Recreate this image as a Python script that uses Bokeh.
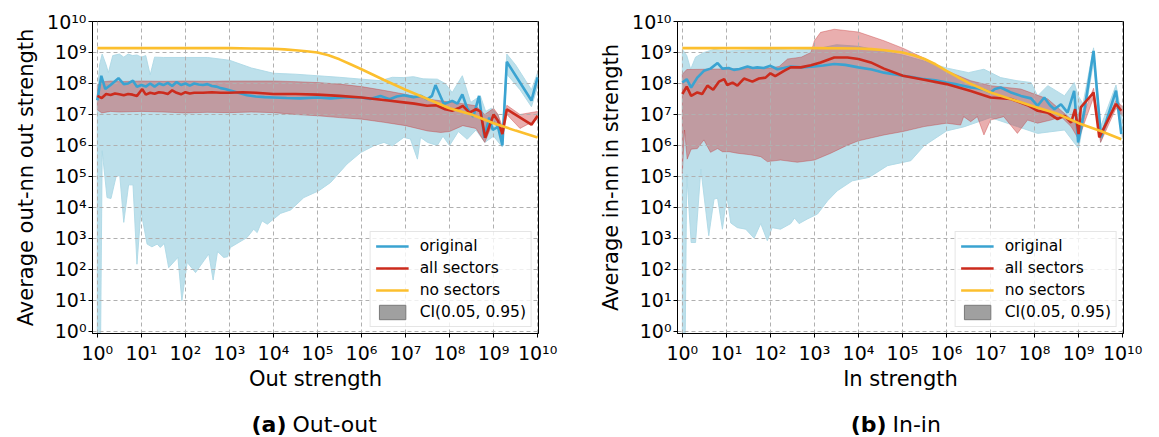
from bokeh.plotting import figure
from bokeh.models import Range1d, FixedTicker, Label
from bokeh.layouts import row, column
from bokeh.embed import file_html
from bokeh.resources import INLINE

# ---------------- data (log10 of strength, log10 of value) ----------------
decades = list(range(0, 11))

# Panel (a) Out-out
a_orig_lx = [0, 0.09, 0.18, 0.3, 0.48, 0.6, 0.7, 0.81, 0.9, 1.0, 1.1, 1.2, 1.3, 1.4, 1.5, 1.6, 1.7, 1.8, 1.9, 2.0,
             2.1, 2.2, 2.3, 2.4, 2.5, 2.6, 2.7, 2.8, 2.9, 3.0, 3.2, 3.4, 3.6, 3.8, 4.0, 4.3, 4.6, 5.0, 5.3, 5.6,
             6.0, 6.2, 6.43, 6.64, 6.8, 6.96, 7.18, 7.35, 7.49, 7.6, 7.68, 7.87, 8.06, 8.18, 8.29, 8.4, 8.54,
             8.67, 8.79, 8.9, 8.98, 9.1, 9.2, 9.3, 9.86, 10.0]
a_orig_ly = [7.46, 8.25, 7.82, 7.95, 8.17, 7.98, 8.0, 8.09, 7.89, 7.95, 7.9, 8.0, 7.9, 8.0, 7.95, 8.02, 7.92, 8.05, 7.95, 8.0,
             7.93, 8.0, 7.97, 7.95, 7.98, 7.92, 7.9, 7.85, 7.82, 7.78, 7.7, 7.62, 7.58, 7.56, 7.55, 7.53, 7.52, 7.55, 7.52, 7.55,
             7.55, 7.5, 7.6, 7.49, 7.58, 7.62, 7.56, 7.6, 7.49, 7.6, 7.95, 7.34, 7.44, 7.35, 7.65, 7.2, 6.93,
             7.6, 6.25, 6.9, 6.5, 6.6, 6.0, 8.7, 7.45, 8.2]
a_all_lx = [0, 0.1, 0.2, 0.3, 0.4, 0.5, 0.6, 0.7, 0.8, 0.9, 1.02, 1.1, 1.2, 1.3, 1.4, 1.5, 1.6, 1.7, 1.8, 1.9, 2.0,
            2.1, 2.2, 2.4, 2.6, 2.8, 3.0, 3.3, 3.6, 4.0, 4.5, 5.0, 5.5, 6.0, 6.3, 6.6, 6.96, 7.2, 7.49, 7.7, 7.9,
            8.06, 8.2, 8.3, 8.45, 8.6, 8.7, 8.81, 9.0, 9.1, 9.2, 9.3, 9.86, 10.0]
a_all_ly = [7.6, 7.53, 7.66, 7.63, 7.68, 7.65, 7.62, 7.66, 7.64, 7.6, 7.82, 7.64, 7.7, 7.67, 7.72, 7.7, 7.66, 7.78, 7.7, 7.65, 7.72,
            7.68, 7.7, 7.7, 7.72, 7.7, 7.7, 7.72, 7.7, 7.66, 7.66, 7.64, 7.6, 7.55, 7.5, 7.45, 7.39, 7.35, 7.28, 7.3, 7.17,
            7.12, 7.2, 7.28, 7.06, 7.17, 7.1, 6.25, 7.0, 6.8, 6.37, 7.17, 6.67, 6.96]
a_none_lx = [0, 1, 2, 3, 3.5, 4, 4.25, 4.5, 4.75, 5, 5.25, 5.5, 5.75, 6, 6.25, 6.5, 6.75, 7, 7.5, 8, 8.5, 9, 9.5, 10.0]
a_none_ly = [9.14, 9.14, 9.14, 9.14, 9.13, 9.12, 9.1, 9.07, 9.04, 9.0, 8.91, 8.78, 8.62, 8.46, 8.29, 8.12, 7.96, 7.8,
             7.5, 7.2, 7.0, 6.72, 6.48, 6.26]

a_ci_all_up_lx = [0, 0.1, 0.3, 0.5, 1, 1.5, 2, 2.5, 3, 3.5, 4, 4.5, 5, 5.5, 6, 6.5, 7, 7.5, 8, 8.3, 8.6, 8.8, 9.0, 9.1,
                  9.2, 9.3, 9.6, 10.0]
a_ci_all_up_ly = [7.95, 8.05, 8.08, 8.06, 8.08, 8.07, 8.08, 8.07, 8.08, 8.08, 8.08, 8.06, 8.03, 7.98, 7.9, 7.78, 7.65, 7.5,
                  7.4, 7.35, 7.28, 7.0, 7.2, 7.0, 6.6, 7.3, 7.0, 7.1]
a_ci_all_lo_lx = [0, 0.1, 0.3, 0.5, 1, 1.5, 2, 2.5, 3, 3.5, 4, 4.5, 5, 5.5, 6, 6.5, 7, 7.5, 7.8, 8.0, 8.3, 8.6, 8.8, 9.0,
                  9.2, 9.3, 9.6, 10.0]
a_ci_all_lo_ly = [7.15, 7.05, 7.1, 7.08, 7.1, 7.08, 7.05, 7.07, 7.06, 7.08, 7.06, 7.0, 6.96, 6.9, 6.85, 6.75, 6.64, 6.47,
                  6.42, 6.45, 6.64, 6.55, 6.1, 6.8, 6.25, 7.0, 6.55, 6.85]
a_ci_orig_up_lx = [0, 0.05, 0.11, 0.2, 0.25, 0.35, 0.5, 0.6, 0.7, 0.8, 0.9, 1.0, 1.1, 1.2, 1.3, 1.5, 2.0, 2.5, 3.0, 3.5,
                   4.0, 4.5, 5.0, 5.5, 6.0, 6.43, 6.7, 6.96, 7.18, 7.4, 7.72, 7.9, 8.06, 8.29, 8.48, 8.7, 8.82, 8.95,
                   9.1, 9.2, 9.3, 9.5, 9.86, 10.0]
a_ci_orig_up_ly = [7.6, 8.6, 8.95, 8.6, 8.35, 8.9, 8.95, 8.85, 8.95, 8.9, 8.92, 8.85, 8.9, 8.28, 8.85, 8.84, 8.84, 8.84,
                   8.75, 8.5, 8.33, 8.3, 8.25, 8.2, 8.14, 8.09, 8.2, 8.19, 8.22, 8.15, 8.14, 8.0, 7.71, 8.25, 7.39,
                   7.6, 7.1, 7.2, 7.0, 6.5, 8.95, 8.6, 7.8, 8.35]
a_ci_orig_lo_lx = [0, 0.07, 0.11, 0.22, 0.31, 0.43, 0.51, 0.6, 0.71, 0.81, 0.9, 0.99, 1.13, 1.24, 1.36, 1.43, 1.52, 1.62,
                   1.83, 1.92, 2.04, 2.23, 2.42, 2.53, 2.63, 2.73, 2.87, 2.96, 3.02, 3.4, 3.55, 3.63, 3.74, 3.86, 4.16,
                   4.39, 4.69, 5.03, 5.3, 5.67, 5.98, 6.28, 6.51, 6.7, 6.96, 7.11, 7.27, 7.34, 7.5, 7.72, 7.85, 8.0,
                   8.2, 8.4, 8.6, 8.8, 9.0, 9.2, 9.3, 9.6, 9.86, 10.0]
a_ci_orig_lo_ly = [-1, -1, 5.83, 4.32, 4.29, 5.02, 5.02, 3.52, 4.73, 4.73, 2.17, 3.89, 2.82, 2.73, 2.82, 2.71, 2.84, 2.06,
                   2.39, 0.99, 2.23, 1.9, 2.28, 2.5, 1.66, 2.58, 2.39, 2.41, 2.71, 3.03, 3.3, 3.19, 3.57, 3.46, 3.81,
                   3.92, 4.32, 4.54, 4.81, 5.4, 5.77, 5.99, 6.1, 5.99, 6.26, 6.21, 5.56, 6.26, 6.1, 6.0, 6.3, 6.0,
                   6.45, 6.2, 6.5, 6.1, 6.3, 5.95, 8.3, 7.8, 7.25, 7.9]

# Panel (b) In-in
b_orig_lx = [0, 0.1, 0.2, 0.34, 0.49, 0.64, 0.8, 0.91, 1.05, 1.17, 1.3, 1.48, 1.6, 1.7, 1.85, 2.0, 2.16, 2.3, 2.46, 2.7,
             3.0, 3.2, 3.45, 3.7, 4.0, 4.3, 4.58, 5.01, 5.25, 5.49, 5.75, 6.0, 6.2, 6.4, 6.55, 6.7, 6.85, 7.0, 7.1,
             7.23, 7.45, 7.69, 7.92, 8.07, 8.22, 8.35, 8.45, 8.6, 8.75, 8.9, 8.99, 9.13, 9.34, 9.51, 9.85, 9.97]
b_orig_ly = [8.03, 8.14, 7.87, 8.19, 8.41, 8.48, 8.66, 8.48, 8.5, 8.44, 8.47, 8.55, 8.5, 8.52, 8.5, 8.57, 8.46, 8.5, 8.55, 8.52,
             8.55, 8.58, 8.63, 8.6, 8.52, 8.45, 8.35, 8.25, 8.2, 8.14, 8.1, 8.03, 7.98, 7.92, 7.87, 7.85, 7.8, 7.71, 7.82,
             7.87, 7.72, 7.6, 7.52, 7.28, 7.55, 7.3, 7.17, 7.33, 7.06, 7.76, 6.1, 7.12, 9.05, 6.26, 7.77, 6.37]
b_all_lx = [0, 0.1, 0.2, 0.34, 0.45, 0.57, 0.7, 0.83, 0.95, 1.02, 1.14, 1.25, 1.4, 1.59, 1.74, 1.89, 2.0, 2.11, 2.31,
            2.46, 2.69, 2.92, 3.14, 3.45, 3.75, 4.0, 4.28, 4.58, 5.01, 5.49, 6.0, 6.55, 7.0, 7.46, 7.84, 8.07, 8.3,
            8.52, 8.68, 8.83, 8.92, 9.0, 9.05, 9.34, 9.47, 9.85, 9.97]
b_all_ly = [7.66, 7.9, 7.6, 7.71, 7.66, 7.93, 7.8, 8.06, 8.14, 7.95, 8.03, 7.93, 8.16, 8.06, 8.16, 8.19, 8.33, 8.24, 8.41,
            8.52, 8.52, 8.59, 8.68, 8.84, 8.84, 8.79, 8.68, 8.48, 8.25, 8.12, 7.98, 7.76, 7.55, 7.5, 7.3, 7.12, 7.06,
            6.85, 6.96, 6.74, 7.17, 6.37, 7.23, 7.71, 6.26, 7.34, 7.12]
b_none_lx = [0, 1, 2, 3, 4, 4.3, 4.6, 5.0, 5.25, 5.5, 5.75, 6.0, 6.25, 6.5, 7.0, 7.5, 8.0, 8.5, 9.0, 9.5, 9.97]
b_none_ly = [9.14, 9.14, 9.14, 9.14, 9.13, 9.11, 9.07, 9.0, 8.91, 8.79, 8.62, 8.41, 8.21, 8.02, 7.71, 7.48, 7.25, 7.03,
             6.72, 6.47, 6.2]

b_ci_all_up_lx = [0, 0.1, 0.5, 1.0, 1.5, 2.0, 2.2, 2.39, 2.7, 2.92, 3.0, 3.14, 3.45, 4.0, 4.58, 5.01, 5.49, 6.0, 6.55,
                  7.0, 7.69, 8.3, 8.83, 9.0, 9.34, 9.5, 9.85, 10.0]
b_ci_all_up_ly = [8.3, 8.45, 8.46, 8.47, 8.48, 8.5, 8.55, 8.79, 8.85, 9.0, 9.38, 9.65, 9.75, 9.66, 9.38, 9.14, 8.82, 8.41,
                  8.09, 7.93, 7.82, 7.5, 6.85, 6.6, 7.85, 6.4, 7.45, 7.25]
b_ci_all_lo_lx = [0, 0.05, 0.11, 0.2, 0.34, 0.49, 0.64, 0.8, 0.91, 1.06, 1.25, 1.55, 1.78, 1.93, 2.23, 2.61, 3.0, 3.37,
                  3.75, 4.0, 4.58, 5.01, 5.49, 6.0, 6.32, 6.39, 6.55, 6.7, 6.85, 7.0, 7.3, 7.61, 7.84, 8.07, 8.37, 8.6,
                  8.83, 9.0, 9.34, 9.5, 9.85, 10.0]
b_ci_all_lo_ly = [5.1, 6.5, 5.56, 5.88, 5.9, 6.18, 5.78, 5.9, 5.8, 5.8, 5.75, 5.7, 5.64, 5.48, 5.53, 5.46, 5.53, 5.75,
                  6.01, 6.15, 6.34, 6.45, 6.61, 6.72, 6.66, 6.93, 6.77, 6.93, 6.34, 6.82, 6.93, 6.39, 6.82, 6.72, 6.82,
                  6.93, 6.61, 6.2, 7.55, 6.1, 7.2, 6.95]
b_ci_orig_up_lx = [0, 0.1, 0.19, 0.3, 0.49, 0.72, 1.0, 1.5, 2.0, 2.5, 3.0, 3.5, 4.0, 4.5, 5.0, 5.5, 6.0, 6.5, 6.85, 7.23,
                   7.6, 7.92, 8.07, 8.3, 8.68, 8.9, 8.99, 9.1, 9.34, 9.5, 9.85, 10.0]
b_ci_orig_up_ly = [9.1, 8.9, 8.46, 8.85, 9.0, 9.1, 9.05, 9.08, 9.1, 9.08, 9.1, 9.25, 9.2, 9.05, 8.92, 8.72, 8.5, 8.35,
                   8.46, 8.19, 8.09, 8.03, 7.6, 7.93, 7.6, 8.03, 7.6, 7.35, 9.15, 6.6, 7.95, 6.8]
b_ci_orig_lo_lx = [0, 0.06, 0.1, 0.2, 0.3, 0.42, 0.6, 0.72, 0.8, 0.91, 1.01, 1.1, 1.25, 1.44, 1.63, 1.78, 1.93, 2.04,
                   2.23, 2.46, 2.55, 2.65, 2.84, 3.07, 3.3, 3.52, 3.86, 4.24, 4.66, 5.19, 5.49, 6.0, 6.39, 7.0, 7.61,
                   8.07, 8.68, 9.0, 9.13, 9.34, 9.5, 9.85, 10.0]
b_ci_orig_lo_ly = [-1, -1, 5.08, 2.87, 2.87, 5.24, 3.09, 4.27, 4.3, 3.3, 4.38, 3.5, 3.35, 3.3, 3.01, 3.48, 2.93, 3.35,
                   3.3, 3.48, 3.66, 3.48, 3.63, 3.79, 4.22, 4.54, 4.86, 4.97, 5.35, 5.51, 5.99, 6.47, 6.6, 6.9, 6.61,
                   6.39, 6.5, 5.9, 6.9, 8.7, 6.1, 7.5, 6.2]

legend_labels = ["original", "all sectors", "no sectors", "CI(0.05, 0.95)"]
captions = [("(a)", "Out-out"), ("(b)", "In-in")]

# ---------------- styling ----------------
FONT = "DejaVu Sans"
C_ORIG = "#3aa3d1"
C_ALL = "#cc2b1d"
C_NONE = "#fcbf2e"
C_BAND_ORIG = "#add8e6"
C_BAND_ALL = "#c62a2a"

SUP = str.maketrans("0123456789", "⁰¹²³⁴⁵⁶⁷⁸⁹")
tick_vals = [10.0 ** k for k in decades]
tick_text = {10.0 ** k: "10" + str(k).translate(SUP) for k in decades}
NAN = float("nan")


def P(v):
    return [10.0 ** t for t in v]


def band(p, up_lx, up_ly, lo_lx, lo_ly, color, alpha, edge_alpha):
    xs = P(up_lx) + P(lo_lx[::-1])
    ys = P(up_ly) + P(lo_ly[::-1])
    p.patch(xs, ys, fill_color=color, fill_alpha=alpha, line_color=color,
            line_alpha=edge_alpha, line_width=1, level="image")


def panel(width, left, right, xlabel, ylabel, d):
    p = figure(width=width, height=407, x_axis_type="log", y_axis_type="log",
               x_range=Range1d(10 ** -0.11, 10 ** 10.02), y_range=Range1d(10 ** -0.065, 10 ** 10.0),
               min_border_left=left, min_border_right=right, min_border_top=21, min_border_bottom=74,
               output_backend="svg", toolbar_location=None, background_fill_color="white",
               border_fill_color="white")
    p.outline_line_color = "black"
    p.outline_line_width = 1
    for ax in (p.xaxis[0], p.yaxis[0]):
        ax.ticker = FixedTicker(ticks=tick_vals)
        ax.major_label_overrides = tick_text
        ax.minor_tick_line_color = None
        ax.major_tick_out = 4
        ax.major_tick_in = 0
        ax.major_tick_line_color = "black"
        ax.axis_line_color = "black"
        ax.major_label_text_font = FONT
        ax.major_label_text_font_size = "19px"
        ax.major_label_text_color = "black"
        ax.axis_label_text_font = FONT
        ax.axis_label_text_font_size = "21px"
        ax.axis_label_text_font_style = "normal"
        ax.axis_label_text_color = "black"
    p.xaxis.major_label_standoff = 4
    p.yaxis.major_label_standoff = 2
    p.xaxis.axis_label_standoff = 0
    p.yaxis.axis_label_standoff = 6
    p.xaxis.axis_label = xlabel
    p.yaxis.axis_label = ylabel
    for g in (p.xgrid[0], p.ygrid[0]):
        g.grid_line_color = "#b0b0b0"
        g.grid_line_dash = "4 3"
        g.grid_line_width = 1
        g.level = "underlay"

    band(p, d["ou_x"], d["ou_y"], d["ol_x"], d["ol_y"], C_BAND_ORIG, 0.8, 0.9)
    band(p, d["au_x"], d["au_y"], d["al_x"], d["al_y"], C_BAND_ALL, 0.38, 0.35)

    p.line(P(d["o_x"]), P(d["o_y"]), line_color=C_ORIG, line_width=2.6, legend_label=legend_labels[0])
    p.line(P(d["a_x"]), P(d["a_y"]), line_color=C_ALL, line_width=2.6, legend_label=legend_labels[1])
    p.line(P(d["n_x"]), P(d["n_y"]), line_color=C_NONE, line_width=2.6, legend_label=legend_labels[2])
    p.quad(left=[NAN], right=[NAN], top=[NAN], bottom=[NAN], fill_color="#a0a0a0", fill_alpha=1.0,
           line_color="#7a7a7a", line_width=1, legend_label=legend_labels[3])

    lg = p.legend[0]
    lg.location = "bottom_right"
    lg.margin = 6
    lg.padding = 5
    lg.spacing = 4
    lg.glyph_width = 33
    lg.glyph_height = 18
    lg.label_height = 18
    lg.label_standoff = 11
    lg.label_text_font = FONT
    lg.label_text_font_size = "15.5px"
    lg.label_text_color = "black"
    lg.border_line_color = "#cccccc"
    lg.border_line_width = 1
    lg.background_fill_alpha = 0.8
    return p


def caption(width, tag, text, split):
    c = figure(width=width, height=30, x_range=Range1d(0, width), y_range=Range1d(0, 30),
               min_border=0, toolbar_location=None, output_backend="svg",
               background_fill_color="white", border_fill_color="white")
    c.outline_line_color = None
    c.axis.visible = False
    c.grid.grid_line_color = None
    c.add_layout(Label(x=split, y=13, text=tag, text_align="right", text_baseline="alphabetic",
                       text_font=FONT, text_font_size="22px", text_font_style="bold", text_color="black"))
    c.add_layout(Label(x=split + 6, y=13, text=text, text_align="left", text_baseline="alphabetic",
                       text_font=FONT, text_font_size="22px", text_font_style="normal", text_color="black"))
    return c


da = dict(o_x=a_orig_lx, o_y=a_orig_ly, a_x=a_all_lx, a_y=a_all_ly, n_x=a_none_lx, n_y=a_none_ly,
          au_x=a_ci_all_up_lx, au_y=a_ci_all_up_ly, al_x=a_ci_all_lo_lx, al_y=a_ci_all_lo_ly,
          ou_x=a_ci_orig_up_lx, ou_y=a_ci_orig_up_ly, ol_x=a_ci_orig_lo_lx, ol_y=a_ci_orig_lo_ly)
db = dict(o_x=b_orig_lx, o_y=b_orig_ly, a_x=b_all_lx, a_y=b_all_ly, n_x=b_none_lx, n_y=b_none_ly,
          au_x=b_ci_all_up_lx, au_y=b_ci_all_up_ly, al_x=b_ci_all_lo_lx, al_y=b_ci_all_lo_ly,
          ou_x=b_ci_orig_up_lx, ou_y=b_ci_orig_up_ly, ol_x=b_ci_orig_lo_lx, ol_y=b_ci_orig_lo_ly)

p1 = panel(580, 92, 42, "Out strength", "Average out-nn out strength", da)
p2 = panel(579, 97, 36, "In strength", "Average in-nn in strength", db)
c1 = caption(580, captions[0][0], captions[0][1], 286)
c2 = caption(579, captions[1][0], captions[1][1], 306)

layout = column(row(p1, p2, spacing=0), row(c1, c2, spacing=0), spacing=0)
open("out.html", "w").write(file_html(layout, INLINE))
